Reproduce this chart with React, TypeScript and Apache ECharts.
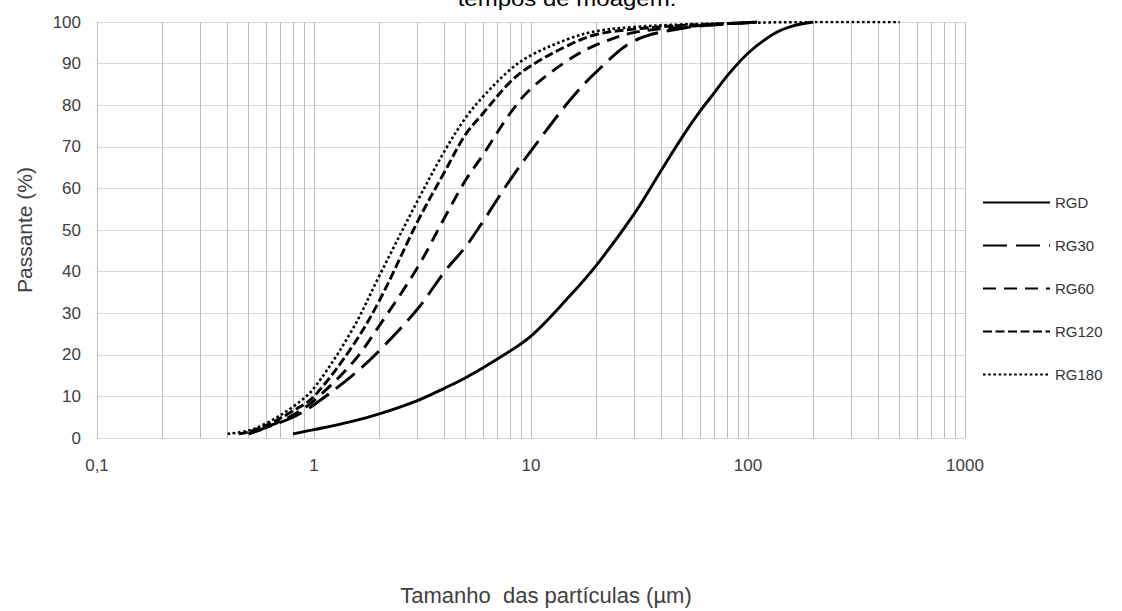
import React, { useEffect, useRef } from "react";
import * as echarts from "echarts";

// ---- data (particle size in µm, cumulative passing %) ----
const sizesRGD = [0.8, 1, 1.5, 2, 3, 4, 5, 7, 10, 15, 20, 30, 40, 50, 60, 70, 80, 100, 130, 160, 200];
const passRGD = [1, 2, 4, 5.8, 9, 12, 14.5, 19, 24.5, 34, 41.5, 54, 64.5, 72.5, 78.5, 83, 87, 92.5, 97, 99, 100];

const sizesRG30 = [0.5, 0.6, 0.8, 1, 1.5, 2, 3, 4, 5, 6, 8, 10, 15, 20, 30, 50, 80, 110];
const passRG30 = [1, 2.5, 5, 8, 15, 21, 31, 40, 46, 52, 62, 69, 81, 88, 95.5, 98.5, 99.5, 100];

const sizesRG60 = [0.5, 0.6, 0.8, 1, 1.5, 2, 3, 4, 5, 6, 8, 10, 15, 20, 30, 50, 80, 110];
const passRG60 = [1, 2.5, 5.5, 9, 18, 27, 41, 53, 62, 68, 78, 84, 91, 94.5, 97.5, 98.8, 99.6, 100];

const sizesRG120 = [0.45, 0.5, 0.6, 0.8, 1, 1.5, 2, 3, 4, 5, 6, 8, 10, 15, 20, 30, 50, 100];
const passRG120 = [1, 1.5, 3, 6.5, 10, 22, 33, 52, 64, 73, 78, 85.5, 89.5, 94.5, 97, 98.3, 99.2, 99.8];

const sizesRG180 = [0.4, 0.5, 0.6, 0.8, 1, 1.5, 2, 3, 4, 5, 6, 8, 10, 15, 20, 30, 50, 100, 200, 500];
const passRG180 = [1, 1.8, 3.5, 7.5, 12, 26, 39, 57, 69, 77, 82, 88.5, 92, 96, 97.8, 98.8, 99.4, 99.8, 100, 100];

const seriesNames = ["RGD", "RG30", "RG60", "RG120", "RG180"];
const minorTicks = [0.2, 0.3, 0.4, 0.5, 0.6, 0.7, 0.8, 0.9, 2, 3, 4, 5, 6, 7, 8, 9, 20, 30, 40, 50, 60, 70, 80, 90, 200, 300, 400, 500, 600, 700, 800, 900];
const titleText = "tempos de moagem.";
const xName = "Tamanho  das partículas (µm)";
const yName = "Passante (%)";

const zip = (xs: number[], ys: number[]) => xs.map((x, i) => [x, ys[i]]);

const FONT = "'Liberation Sans', Arial, sans-serif";

export default function App() {
  const ref = useRef<HTMLDivElement>(null);
  useEffect(() => {
    if (!ref.current) return;
    const chart = echarts.init(ref.current, undefined, { renderer: "svg" });
    const dashes: any[] = ["solid", [24, 9], [13, 8], [9, 3.5], [2.6, 2.6]];
    const datasets = [
      zip(sizesRGD, passRGD),
      zip(sizesRG30, passRG30),
      zip(sizesRG60, passRG60),
      zip(sizesRG120, passRG120),
      zip(sizesRG180, passRG180),
    ];
    const lineSeries = seriesNames.map((name, i) => ({
      name,
      type: "line",
      data: datasets[i],
      smooth: 0.35,
      showSymbol: false,
      symbol: "none",
      z: 5,
      lineStyle: { color: "#000", width: i === 4 ? 2.6 : 2.9, type: dashes[i] },
      itemStyle: { color: "#000" },
    }));
    const gridSeries = {
      name: "_grid",
      type: "line",
      data: [],
      silent: true,
      z: 1,
      markLine: {
        silent: true,
        symbol: "none",
        label: { show: false },
        lineStyle: { color: "#bdbdbd", width: 1, type: "solid" },
        data: minorTicks.map((v) => ({ xAxis: v })),
      },
    };
    chart.setOption({
      animation: false,
      backgroundColor: "#fff",
      textStyle: { fontFamily: FONT },
      graphic: [
        {
          type: "text",
          x: 567,
          y: 9,
          scaleX: 1.2,
          originX: 0,
          originY: 0,
          style: {
            text: titleText,
            font: "20px " + FONT,
            fill: "#000",
            textAlign: "center",
            textVerticalAlign: "bottom",
          },
        },
      ],
      legend: {
        orient: "vertical",
        left: 977,
        top: 190,
        itemWidth: 67,
        itemHeight: 14,
        itemGap: 28,
        data: seriesNames,
        textStyle: { fontFamily: FONT, fontSize: 15, color: "#333" },
        itemStyle: { opacity: 0 },
      },
      grid: { left: 97, right: 157, top: 22, bottom: 173, containLabel: false },
      xAxis: {
        type: "log",
        logBase: 10,
        min: 0.1,
        max: 1000,
        name: xName,
        nameLocation: "middle",
        nameGap: 146,
        nameTextStyle: { fontFamily: FONT, fontSize: 22, color: "#404040", padding: [0, 0, 0, 30] },
        axisLine: { show: true, lineStyle: { color: "#d9d9d9" } },
        axisTick: { show: false },
        axisLabel: {
          margin: 19,
          fontFamily: FONT,
          fontSize: 17,
          color: "#404040",
          formatter: (v: number) => String(Number(v.toPrecision(6))).replace(".", ","),
        },
        splitLine: { show: true, lineStyle: { color: "#bdbdbd", width: 1 } },
      },
      yAxis: {
        type: "value",
        min: 0,
        max: 100,
        interval: 10,
        name: yName,
        nameLocation: "middle",
        nameGap: 62,
        nameTextStyle: { fontFamily: FONT, fontSize: 21, color: "#404040" },
        axisLine: { show: true, lineStyle: { color: "#bfbfbf" } },
        axisTick: { show: false },
        axisLabel: { margin: 16, fontFamily: FONT, fontSize: 17, color: "#404040" },
        splitLine: { show: true, lineStyle: { color: "#d9d9d9", width: 1 } },
      },
      series: [gridSeries, ...lineSeries],
    });
    return () => chart.dispose();
  }, []);
  return (
    <div
      ref={ref}
      style={{ position: "absolute", left: 0, top: 0, width: 1122, height: 611 }}
    />
  );
}
